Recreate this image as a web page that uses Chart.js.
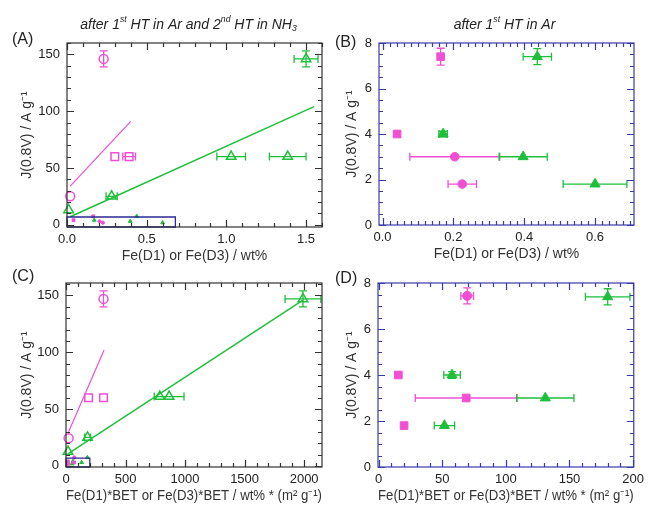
<!DOCTYPE html>
<html>
<head>
<meta charset="utf-8">
<script src="https://cdn.jsdelivr.net/npm/chart.js@4.4.0/dist/chart.umd.min.js"></script>
<style>
body{margin:0;background:#fff;}
canvas{position:absolute;left:0;top:0;}
</style>
</head>
<body>
<canvas id="chartA" width="649" height="515"></canvas>
<canvas id="chartB" width="649" height="515"></canvas>
<canvas id="chartC" width="649" height="515"></canvas>
<canvas id="chartD" width="649" height="515"></canvas>
<script>
// ---- (A) after 1st HT in Ar and 2nd HT in NH3, J vs Fe wt% ----
var aCircX = [0.23, 0.02], aCircY = [146, 25], aCircYErr = [7, 0];
var aSqX = [0.30, 0.39], aSqY = [60, 60], aSqXErr = [0, 0.04];
var aTriX = [0.01, 0.28, 1.03, 1.385, 1.50], aTriY = [13, 25, 60, 60, 146];
var aTriXErr = [0, 0.035, 0.09, 0.115, 0.075], aTriYErr = [0, 0, 0, 0, 7];
var aPinkFitX = [0.02, 0.40], aPinkFitY = [34, 91];
var aGreenFitX = [0.02, 1.55], aGreenFitY = [7, 104];
var aBoxX = [0, 0.68, 0.68, 0, 0], aBoxY = [-2, -2, 6.8, 6.8, -2];
var aXTicks = [0, 0.5, 1.0, 1.5], aYTicks = [0, 50, 100, 150];

// ---- (B) after 1st HT in Ar, J vs Fe wt% ----
var bSqX = [0.164, 0.041], bSqY = [7.4, 4.0], bSqYErr = [0.37, 0];
var bCircX = [0.204, 0.225], bCircY = [3.0, 1.8], bCircXErr = [0.127, 0.04];
var bTriX = [0.437, 0.171, 0.397, 0.60], bTriY = [7.4, 4.0, 3.0, 1.8];
var bTriXErr = [0.04, 0.012, 0.068, 0.09], bTriYErr = [0.35, 0.12, 0, 0];
var bXTicks = [0, 0.2, 0.4, 0.6], bYTicks = [0, 2, 4, 6, 8];

// ---- (C) after Ar + NH3, J vs Fe*BET ----
var cCircX = [315, 22], cCircY = [147, 24.4], cCircYErr = [7, 0];
var cSqX = [190, 315], cSqY = [60, 60];
var cTriX = [17, 181, 788, 866, 1990], cTriY = [12.6, 25, 61, 61, 147];
var cTriXErr = [0, 25, 0, 125, 150], cTriYErr = [0, 0, 0, 0, 7];
var cPinkFitX = [22, 320], cPinkFitY = [30, 102];
var cGreenFitX = [22, 1990], cGreenFitY = [11, 146];
var cBoxX = [0, 200, 200, 0, 0], cBoxY = [-1, -1, 6.8, 6.8, -1];
var cXTicks = [0, 500, 1000, 1500, 2000], cYTicks = [0, 50, 100, 150];

// ---- (D) after 1st HT in Ar, J vs Fe*BET ----
var dCircX = [69.6], dCircY = [7.44], dCircXErr = [5], dCircYErr = [0.35];
var dSqX = [15.5, 68.8, 20], dSqY = [4.0, 3.0, 1.8], dSqXErr = [0, 40, 0];
var dTriX = [180, 57.7, 131, 51.7], dTriY = [7.4, 4.0, 3.0, 1.8];
var dTriXErr = [17.5, 6.5, 22.5, 8], dTriYErr = [0.35, 0.15, 0, 0];
var dXTicks = [0, 50, 100, 150, 200], dYTicks = [0, 2, 4, 6, 8];

var yTitle = 'J(0.8V) / A g\u207B\u00B9';
var xTitle1 = 'Fe(D1) or Fe(D3) / wt%';
var xTitle2 = 'Fe(D1)*BET or Fe(D3)*BET / wt% * (m\u00B2 g\u207B\u00B9)';
var titleA = [['after 1'], ['st', 'sup'], [' HT in Ar and 2'], ['nd', 'sup'], [' HT in NH'], ['3', 'sub']];
var titleB = [['after 1'], ['st', 'sup'], [' HT in Ar']];

var PINK = '#f04fd4', GREEN = '#1fbf3c', NAVY = '#2a2a92';
Chart.defaults.font.family = '"Liberation Sans", Arial, sans-serif';
Chart.defaults.color = '#222';

function pts(xs, ys) { return xs.map(function (x, i) { return {x: x, y: ys[i]}; }); }

function marker(xs, ys, style, color, filled, r, xErr, yErr) {
  return {
    data: pts(xs, ys), pointStyle: style, pointRadius: r, pointHoverRadius: r,
    borderColor: color, backgroundColor: filled ? color : 'rgba(0,0,0,0)',
    borderWidth: filled ? 1 : 1.5, pointBorderWidth: filled ? 1 : 1.5,
    xErr: xErr, yErr: yErr, clip: false, showLine: false
  };
}
function line(xs, ys, color, w) {
  return {data: pts(xs, ys), showLine: true, borderColor: color, borderWidth: w, pointRadius: 0, clip: false};
}

var errorBars = {
  id: 'errorBars',
  beforeDatasetsDraw: function (chart) {
    var ctx = chart.ctx, x = chart.scales.x, y = chart.scales.y;
    chart.data.datasets.forEach(function (ds) {
      if (!ds.xErr && !ds.yErr) return;
      ctx.save();
      ctx.strokeStyle = ds.borderColor;
      ctx.lineWidth = 1.3;
      ds.data.forEach(function (p, i) {
        var px = x.getPixelForValue(p.x), py = y.getPixelForValue(p.y);
        var xe = ds.xErr ? ds.xErr[i] : 0, ye = ds.yErr ? ds.yErr[i] : 0;
        ctx.beginPath();
        if (xe) {
          var l = x.getPixelForValue(p.x - xe), r = x.getPixelForValue(p.x + xe);
          ctx.moveTo(l, py); ctx.lineTo(r, py);
          ctx.moveTo(l, py - 4); ctx.lineTo(l, py + 4);
          ctx.moveTo(r, py - 4); ctx.lineTo(r, py + 4);
        }
        if (ye) {
          var t = y.getPixelForValue(p.y + ye), b = y.getPixelForValue(p.y - ye);
          ctx.moveTo(px, t); ctx.lineTo(px, b);
          ctx.moveTo(px - 4, t); ctx.lineTo(px + 4, t);
          ctx.moveTo(px - 4, b); ctx.lineTo(px + 4, b);
        }
        ctx.stroke();
      });
      ctx.restore();
    });
  }
};

// box with inward ticks on all four sides
var frame = {
  id: 'frame',
  afterDatasetsDraw: function (chart, args, o) {
    var ctx = chart.ctx, a = chart.chartArea, x = chart.scales.x, y = chart.scales.y;
    ctx.save();
    ctx.strokeStyle = o.color;
    ctx.lineWidth = 1.2;
    ctx.strokeRect(a.left, a.top, a.right - a.left, a.bottom - a.top);
    ctx.beginPath();
    var k, v, len, p;
    for (k = Math.ceil(x.min / o.xMinor); k * o.xMinor <= x.max + 1e-9; k++) {
      v = k * o.xMinor;
      len = Math.abs(v / o.xMajor - Math.round(v / o.xMajor)) < 1e-6 ? 7 : 4;
      p = Math.round(x.getPixelForValue(v)) + 0.5;
      ctx.moveTo(p, a.bottom); ctx.lineTo(p, a.bottom - len);
      ctx.moveTo(p, a.top); ctx.lineTo(p, a.top + len);
    }
    for (k = Math.ceil(y.min / o.yMinor); k * o.yMinor <= y.max + 1e-9; k++) {
      v = k * o.yMinor;
      len = Math.abs(v / o.yMajor - Math.round(v / o.yMajor)) < 1e-6 ? 7 : 4;
      p = Math.round(y.getPixelForValue(v)) + 0.5;
      ctx.moveTo(a.left, p); ctx.lineTo(a.left + len, p);
      ctx.moveTo(a.right, p); ctx.lineTo(a.right - len, p);
    }
    ctx.stroke();
    ctx.restore();
  }
};

var panelText = {
  id: 'panelText',
  afterDraw: function (chart, args, o) {
    var ctx = chart.ctx, a = chart.chartArea;
    var fam = '"Liberation Sans", Arial, sans-serif';
    ctx.save();
    ctx.fillStyle = '#222';
    ctx.textBaseline = 'middle';
    ctx.font = '16px ' + fam;
    ctx.fillText(o.label, o.lx, o.ly);
    if (o.title) {
      var size = 14, w = 0;
      var fontOf = function (kind) { return 'italic ' + (kind ? size * 0.62 : size) + 'px ' + fam; };
      o.title.forEach(function (p) { ctx.font = fontOf(p[1]); w += ctx.measureText(p[0]).width; });
      var cx = (a.left + a.right) / 2 + o.dx - w / 2;
      o.title.forEach(function (p) {
        ctx.font = fontOf(p[1]);
        var dy = p[1] === 'sup' ? -size * 0.38 : (p[1] === 'sub' ? size * 0.28 : 0);
        ctx.fillText(p[0], cx, o.ty + dy);
        cx += ctx.measureText(p[0]).width;
      });
    }
    ctx.restore();
  }
};

function build(id, c) {
  var a = c.area;
  return new Chart(document.getElementById(id), {
    type: 'scatter',
    data: {datasets: c.datasets},
    options: {
      responsive: false, animation: false, events: [],
      layout: {padding: {left: a[0] - 62, top: a[1], right: 649 - a[2], bottom: 515 - a[3] - 40}},
      plugins: {legend: {display: false}, tooltip: {enabled: false}, frame: c.frame, panelText: c.text},
      scales: {
        x: {
          type: 'linear', min: c.xRange[0], max: c.xRange[1],
          grid: {display: false, drawTicks: false}, border: {display: false},
          afterBuildTicks: function (s) { s.ticks = c.xTicks.map(function (v) { return {value: v}; }); },
          afterFit: function (s) { s.height = 40; },
          ticks: {autoSkip: false, maxRotation: 0, padding: 5, font: {size: 13}, color: '#222', callback: c.xFmt},
          title: {display: true, text: c.xTitle, color: '#333', font: {size: 14}, padding: {top: 0, bottom: 2}}
        },
        y: {
          type: 'linear', min: c.yRange[0], max: c.yRange[1],
          grid: {display: false, drawTicks: false}, border: {display: false},
          afterBuildTicks: function (s) { s.ticks = c.yTicks.map(function (v) { return {value: v}; }); },
          afterFit: function (s) { s.width = 62; },
          ticks: {autoSkip: false, padding: 7, font: {size: 13}, color: '#222', callback: function (v) { return String(v); }},
          title: {display: true, text: yTitle, color: '#333', font: {size: 14}, padding: {top: c.yTitleX - (a[0] - 62) - 8.4, bottom: 0}}
        }
      }
    },
    plugins: [errorBars, frame, panelText]
  });
}

var fmt1 = function (v) { return v.toFixed(1); };
var fmt0 = function (v) { return String(v); };

build('chartA', {
  area: [67, 43, 322, 227], xRange: [0, 1.6], yRange: [-2, 160],
  xTicks: aXTicks, yTicks: aYTicks, xFmt: fmt1, xTitle: xTitle1, yTitleX: 27,
  frame: {color: '#333', xMinor: 0.1, xMajor: 0.5, yMinor: 10, yMajor: 50},
  text: {label: '(A)', lx: 12, ly: 40, title: titleA, dx: -6, ty: 25},
  datasets: [
    line(aBoxX, aBoxY, NAVY, 1.3),
    line(aPinkFitX, aPinkFitY, PINK, 1.2),
    line(aGreenFitX, aGreenFitY, GREEN, 1.5),
    marker(aCircX, aCircY, 'circle', PINK, false, 4.5, null, aCircYErr),
    marker(aSqX, aSqY, 'rect', PINK, false, 5.4, aSqXErr, null),
    marker(aTriX, aTriY, 'triangle', GREEN, false, 5.5, aTriXErr, aTriYErr),
    marker(bSqX, bSqY, 'rect', PINK, true, 2, null, null),
    marker(bCircX, bCircY, 'circle', PINK, true, 1.6, null, null),
    marker(bTriX, bTriY, 'triangle', GREEN, true, 2.2, null, null)
  ]
});

build('chartB', {
  area: [379, 43, 634, 225], xRange: [-0.01, 0.71], yRange: [0, 8],
  xTicks: bXTicks, yTicks: bYTicks, xFmt: fmt1, xTitle: xTitle1, yTitleX: 352,
  frame: {color: '#3a3aa8', xMinor: 0.02, xMajor: 0.2, yMinor: 0.5, yMajor: 2},
  text: {label: '(B)', lx: 335, ly: 43, title: titleB, dx: -2, ty: 25},
  datasets: [
    marker(bSqX, bSqY, 'rect', PINK, true, 5.4, null, bSqYErr),
    marker(bCircX, bCircY, 'circle', PINK, true, 4.3, bCircXErr, null),
    marker(bTriX, bTriY, 'triangle', GREEN, true, 5.8, bTriXErr, bTriYErr)
  ]
});

build('chartC', {
  area: [66, 283, 322, 467], xRange: [0, 2150], yRange: [-1, 161],
  xTicks: cXTicks, yTicks: cYTicks, xFmt: fmt0, xTitle: xTitle2, yTitleX: 27,
  frame: {color: '#333', xMinor: 100, xMajor: 500, yMinor: 10, yMajor: 50},
  text: {label: '(C)', lx: 12, ly: 277},
  datasets: [
    line(cBoxX, cBoxY, NAVY, 1.3),
    line(cPinkFitX, cPinkFitY, PINK, 1.2),
    line(cGreenFitX, cGreenFitY, GREEN, 1.5),
    marker(cCircX, cCircY, 'circle', PINK, false, 4.5, null, cCircYErr),
    marker(cSqX, cSqY, 'rect', PINK, false, 5.4, null, null),
    marker(cTriX, cTriY, 'triangle', GREEN, false, 5.5, cTriXErr, cTriYErr),
    marker(dCircX, dCircY, 'circle', PINK, true, 1.6, null, null),
    marker(dSqX, dSqY, 'rect', PINK, true, 2, null, null),
    marker(dTriX, dTriY, 'triangle', GREEN, true, 2.2, null, null)
  ]
});

build('chartD', {
  area: [378, 283, 635, 467], xRange: [-0.5, 200.5], yRange: [0, 8],
  xTicks: dXTicks, yTicks: dYTicks, xFmt: fmt0, xTitle: xTitle2, yTitleX: 352,
  frame: {color: '#3a3aa8', xMinor: 10, xMajor: 50, yMinor: 0.5, yMajor: 2},
  text: {label: '(D)', lx: 335, ly: 279},
  datasets: [
    marker(dCircX, dCircY, 'circle', PINK, true, 4.5, dCircXErr, dCircYErr),
    marker(dSqX, dSqY, 'rect', PINK, true, 5.4, dSqXErr, null),
    marker(dTriX, dTriY, 'triangle', GREEN, true, 5.8, dTriXErr, dTriYErr)
  ]
});
</script>
</body>
</html>
